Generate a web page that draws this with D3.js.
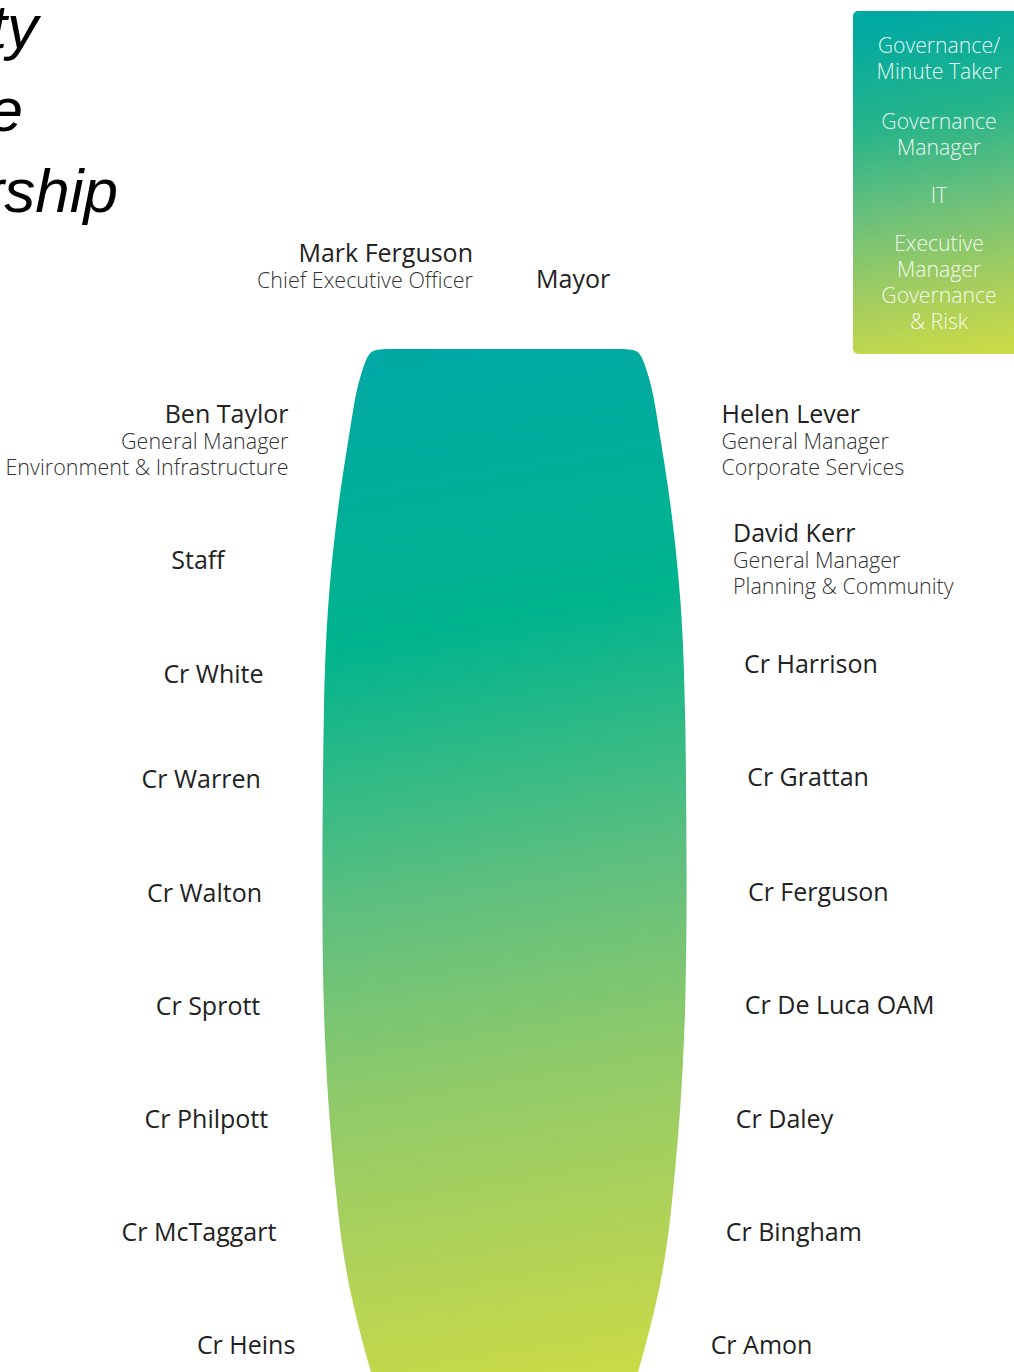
<!DOCTYPE html>
<html><head><meta charset="utf-8">
<script src="https://cdn.jsdelivr.net/npm/d3@7"></script>
<style>html,body{margin:0;padding:0;background:#fff;overflow:hidden}</style>
</head><body>
<script>
// ---- data ----
const titleFragments = ["ty", "e", "rship"];
const sidebarLines = [["Governance/", "Minute Taker"], ["Governance", "Manager"], ["IT"], ["Executive", "Manager", "Governance", "& Risk"]];
const ceo = {name: "Mark Ferguson", role: ["Chief Executive Officer"]};
const chair = {name: "Mayor", role: []};
const leftSeats = [
  {name: "Ben Taylor", role: ["General Manager", "Environment & Infrastructure"]},
  {name: "Staff", role: []},
  {name: "Cr White", role: []},
  {name: "Cr Warren", role: []},
  {name: "Cr Walton", role: []},
  {name: "Cr Sprott", role: []},
  {name: "Cr Philpott", role: []},
  {name: "Cr McTaggart", role: []},
  {name: "Cr Heins", role: []}
];
const rightSeats = [
  {name: "Helen Lever", role: ["General Manager", "Corporate Services"]},
  {name: "David Kerr", role: ["General Manager", "Planning & Community"]},
  {name: "Cr Harrison", role: []},
  {name: "Cr Grattan", role: []},
  {name: "Cr Ferguson", role: []},
  {name: "Cr De Luca OAM", role: []},
  {name: "Cr Daley", role: []},
  {name: "Cr Bingham", role: []},
  {name: "Cr Amon", role: []}
];
// table outline: [depth along table, half-width]
const tableProfile = [[0,110],[0,122],[1,132],[8,138],[30,145],[51,150],[91,156],[151,166],[251,177],[351,181],[531,182.5],[651,181.5],[751,177],[851,168],[901,162],[951,153],[1023,134],[1040,128]];
const tableColors = ["#00a8a4","#00b48d","#5ebf7f","#8fca6a","#b3d356","#c8da47"];
const tableStops = [0,0.27,0.52,0.7,0.88,1];
const sideColors = ["#00a9a2","#25b48a","#69c07c","#a3cd5f","#c8da48"];
const sideStops = [0,0.3,0.55,0.8,1];

// ---- layout ----
const W = 1014, H = 1372;
const svg = d3.select("body").append("svg").attr("width", W).attr("height", H);
const defs = svg.append("defs");
const FONT = "'Open Sans', sans-serif";

const cx = 504.5, tableTop = 349;
const yDepth = d3.scaleLinear().domain([0, 1023]).range([tableTop, tableTop + 1023]);
const hwAt = d3.scaleLinear().domain(tableProfile.slice(1).map(d => yDepth(d[0]))).range(tableProfile.slice(1).map(d => d[1]));
const rowY = d3.scaleLinear().domain([0, 8]).range([440, 1345]);

const tg = defs.append("linearGradient").attr("id", "tableGrad").attr("gradientUnits", "userSpaceOnUse")
  .attr("x1", cx - 90).attr("y1", tableTop).attr("x2", cx + 90).attr("y2", tableTop + 1023);
tg.selectAll("stop").data(tableColors).join("stop")
  .attr("offset", (d, i) => tableStops[i]).attr("stop-color", d => d);
const sg = defs.append("linearGradient").attr("id", "sideGrad")
  .attr("x1", 0.45).attr("y1", 0).attr("x2", 0.55).attr("y2", 1);
sg.selectAll("stop").data(sideColors).join("stop")
  .attr("offset", (d, i) => sideStops[i]).attr("stop-color", d => d);

// table
const area = d3.area()
  .y(d => yDepth(d[0]))
  .x0(d => cx - d[1]).x1(d => cx + d[1])
  .curve(d3.curveBasis);
svg.append("path").attr("d", area(tableProfile)).attr("fill", "url(#tableGrad)");

// sidebar
svg.append("rect").attr("x", 853).attr("y", 11).attr("width", 180).attr("height", 343)
  .attr("rx", 5).attr("fill", "url(#sideGrad)");
const sideG = svg.append("g").attr("font-family", FONT).attr("font-weight", 300)
  .attr("font-size", 21.2).attr("fill", "#ffffff").attr("fill-opacity", 0.92).attr("text-anchor", "middle");
const sideStart = [53, 129, 203, 251];
sidebarLines.forEach((grp, gi) => {
  grp.forEach((ln, li) => {
    sideG.append("text").attr("x", 939).attr("y", sideStart[gi] + li * 26).text(ln);
  });
});

// title fragments
const titleG = svg.append("g").attr("font-family", "'Liberation Sans', Arial, sans-serif")
  .attr("font-style", "italic").attr("font-size", 62).attr("fill", "#000").attr("text-anchor", "end");
const titleX = [38, 23, 118], titleY = [48, 131, 212];
titleFragments.forEach((t, i) => titleG.append("text").attr("x", titleX[i]).attr("y", titleY[i]).text(t));

// label helper
function label(g, d, x, y, anchor) {
  const t = g.append("g").attr("text-anchor", anchor);
  const n = d.role.length;
  const y0 = n ? y - 13 * n + 9 : y + 9;
  t.append("text").attr("x", x).attr("y", y0).attr("font-size", 25)
    .attr("font-weight", 400).attr("fill", "#222").text(d.name);
  d.role.forEach((r, i) => {
    t.append("text").attr("x", x).attr("y", y0 + 26 * (i + 1)).attr("font-size", 21.5)
      .attr("font-weight", 300).attr("fill", "#333").text(r);
  });
}
const lab = svg.append("g").attr("font-family", FONT);
label(lab, ceo, 473, 266, "end");
lab.select("g:last-child").selectAll("text").attr("y", (d, i, n) => [262, 288][i]);
label(lab, chair, 536, 279, "start");

const leftGap = [60, 104, 61, 62, 60, 63, 61, 64, 68];
const rightGap = [61, 56, 60, 61, 61, 59, 56, 57, 65];
const leftYAdj = [0, 7, 8, 0, 0, 0, 0, 0, 0];
const rightYAdj = [0, 6, -2, -2, -1, -1, 0, 0, 0];
leftSeats.forEach((d, i) => {
  const y = rowY(i) + leftYAdj[i];
  const x = cx - hwAt(y) - leftGap[i];
  if (d.name === "Staff") label(lab, d, 198, y, "middle");
  else label(lab, d, x, y, "end");
});
rightSeats.forEach((d, i) => {
  const y = rowY(i) + rightYAdj[i];
  const x = cx + hwAt(y) + rightGap[i];
  label(lab, d, x, y, "start");
});
</script>
</body></html>
